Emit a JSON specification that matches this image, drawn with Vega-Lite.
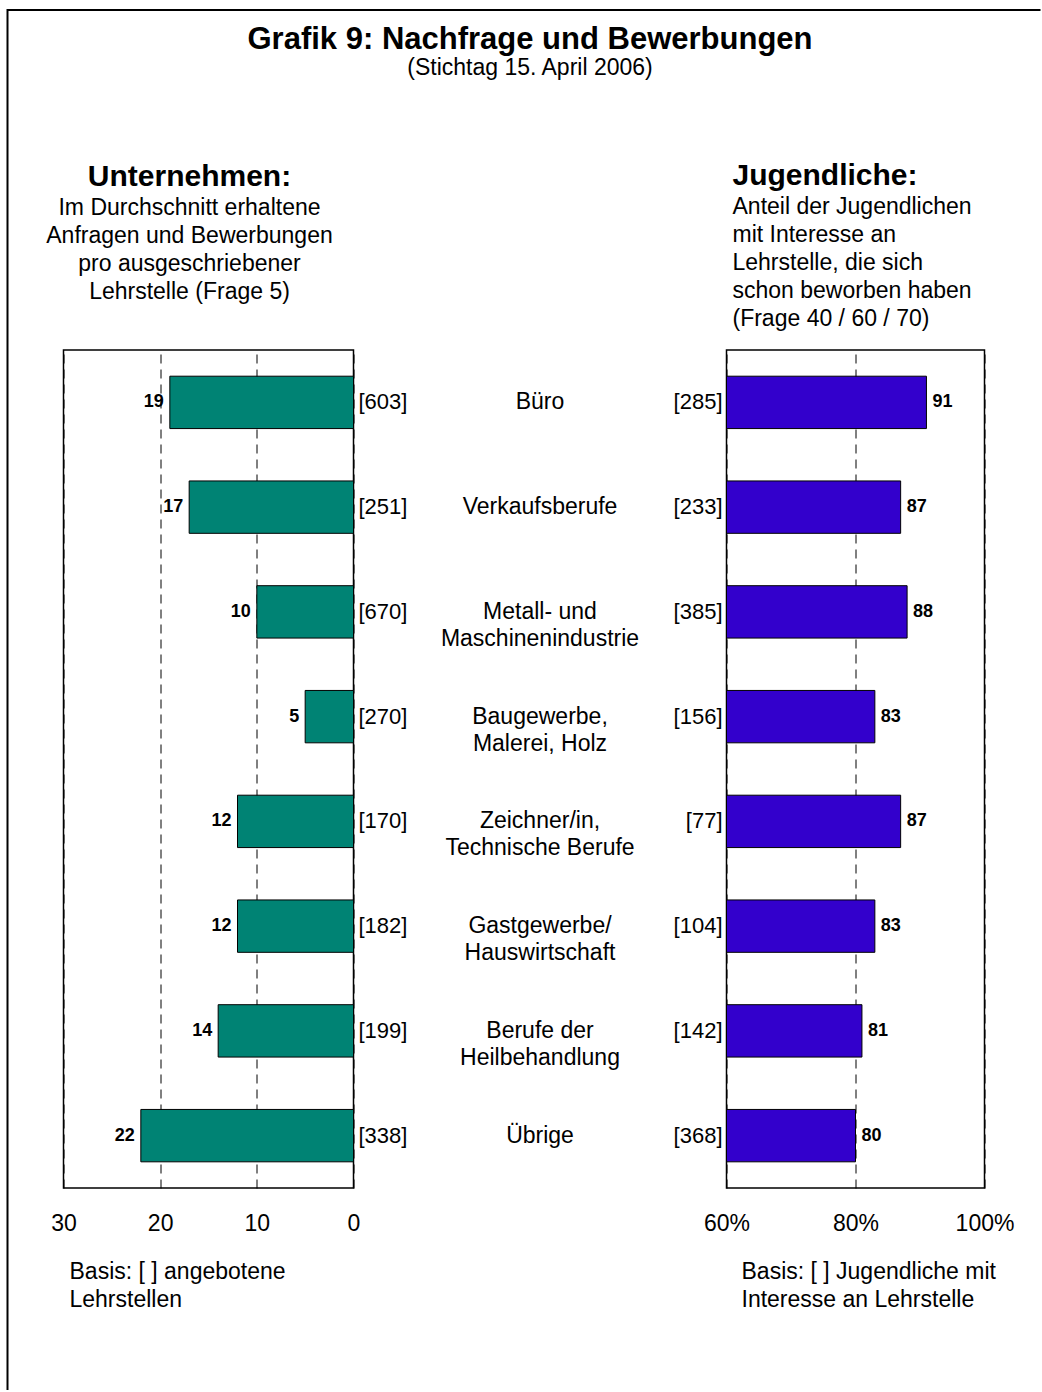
{
  "$schema": "https://vega.github.io/schema/vega-lite/v6.json",
  "padding": {"left": 6.5, "top": 9, "right": 0, "bottom": 0},
  "autosize": {"type": "pad"},
  "config": {
    "font": "Liberation Sans",
    "view": {"stroke": "black", "strokeWidth": 1.5},
    "text": {"color": "black"}
  },
  "data": {
    "values": [
      {"cat": "Büro", "l": 19, "ln": "[603]", "r": 91, "rn": "[285]"},
      {"cat": "Verkaufsberufe", "l": 17, "ln": "[251]", "r": 87, "rn": "[233]"},
      {"cat": "Metall- und\nMaschinenindustrie", "l": 10, "ln": "[670]", "r": 88, "rn": "[385]"},
      {"cat": "Baugewerbe,\nMalerei, Holz", "l": 5, "ln": "[270]", "r": 83, "rn": "[156]"},
      {"cat": "Zeichner/in,\nTechnische Berufe", "l": 12, "ln": "[170]", "r": 87, "rn": "[77]"},
      {"cat": "Gastgewerbe/\nHauswirtschaft", "l": 12, "ln": "[182]", "r": 83, "rn": "[104]"},
      {"cat": "Berufe der\nHeilbehandlung", "l": 14, "ln": "[199]", "r": 81, "rn": "[142]"},
      {"cat": "Übrige", "l": 22, "ln": "[338]", "r": 80, "rn": "[368]"}
    ]
  },
  "spacing": 0,
  "bounds": "flush",
  "vconcat": [
    {
      "width": 1033,
      "height": 340,
      "view": {"stroke": "black", "strokeWidth": 2, "strokeDash": [1033, 1373, 340]},
      "title": {
        "text": "Grafik 9: Nachfrage und Bewerbungen",
        "subtitle": "(Stichtag 15. April 2006)",
        "anchor": "middle",
        "frame": "group",
        "offset": -71,
        "dx": 6,
        "fontSize": 31,
        "fontWeight": "bold",
        "color": "black",
        "subtitleFontSize": 23,
        "subtitleColor": "black",
        "subtitlePadding": 1
      },
      "mark": {"type": "text"},
      "encoding": {"text": {"value": ""}}
    },
    {
      "spacing": 0,
      "bounds": "flush",
      "hconcat": [
        {
          "width": 56,
          "height": 1040,
          "view": {"stroke": "black", "strokeWidth": 2, "strokeDash": [0, 1152, 1040]},
          "mark": {"type": "text"},
          "encoding": {"text": {"value": ""}}
        },
        {
          "width": 290,
          "height": 838,
          "title": {
            "text": "Unternehmen:",
            "subtitle": ["Im Durchschnitt erhaltene", "Anfragen und Bewerbungen", "pro ausgeschriebener", "Lehrstelle (Frage 5)"],
            "anchor": "middle",
            "frame": "group",
            "dx": -19,
            "offset": 46,
            "fontSize": 30,
            "fontWeight": "bold",
            "color": "black",
            "subtitleFontSize": 23,
            "subtitleColor": "black",
            "subtitleLineHeight": 28,
            "subtitlePadding": 5
          },
          "encoding": {
            "y": {
              "field": "cat", "type": "nominal", "sort": null,
              "scale": {"paddingInner": 0.5, "paddingOuter": 0.25},
              "axis": null
            }
          },
          "layer": [
            {
              "mark": {"type": "bar", "color": "#008374", "stroke": "black", "strokeWidth": 1},
              "encoding": {
                "x": {
                  "field": "l", "type": "quantitative",
                  "scale": {"domain": [0, 30], "reverse": true, "nice": false},
                  "axis": {
                    "values": [0, 10, 20, 30],
                    "labelFontSize": 23, "labelColor": "black", "labelFlush": false,
                    "labelBaseline": "alphabetic", "labelPadding": 42,
                    "ticks": false, "tickSize": 0, "domain": false,
                    "grid": true, "gridDash": [9, 6], "gridColor": "black", "gridWidth": 1, "gridOpacity": 1,
                    "title": ["Basis: [ ] angebotene", "Lehrstellen"],
                    "titleFontSize": 23, "titleFontWeight": "normal", "titleColor": "black",
                    "titleAnchor": "start", "titleAlign": "left", "titleBaseline": "alphabetic",
                    "titleX": 5.5, "titleY": 90, "titleLineHeight": 28
                  }
                }
              }
            },
            {
              "mark": {"type": "text", "align": "right", "dx": -6, "fontWeight": "bold", "fontSize": 18, "baseline": "middle"},
              "encoding": {
                "x": {"field": "l", "type": "quantitative"},
                "text": {"field": "l"}
              }
            },
            {
              "mark": {"type": "text", "align": "left", "dx": 5, "fontSize": 22, "baseline": "middle"},
              "encoding": {
                "x": {"datum": 0, "type": "quantitative"},
                "text": {"field": "ln"}
              }
            }
          ]
        },
        {
          "width": 373,
          "height": 838,
          "view": {"stroke": null},
          "mark": {"type": "text", "fontSize": 23, "lineBreak": "\n", "lineHeight": 27, "baseline": "middle", "align": "center"},
          "encoding": {
            "y": {
              "field": "cat", "type": "nominal", "sort": null,
              "scale": {"paddingInner": 0.5, "paddingOuter": 0.25},
              "axis": null
            },
            "text": {"field": "cat"}
          }
        },
        {
          "width": 258,
          "height": 838,
          "title": {
            "text": "Jugendliche:",
            "subtitle": ["Anteil der Jugendlichen", "mit Interesse an", "Lehrstelle, die sich", "schon beworben haben", "(Frage 40 / 60 / 70)"],
            "anchor": "start",
            "frame": "group",
            "dx": 6,
            "offset": 19,
            "fontSize": 30,
            "fontWeight": "bold",
            "color": "black",
            "subtitleFontSize": 23,
            "subtitleColor": "black",
            "subtitleLineHeight": 28,
            "subtitlePadding": 5
          },
          "encoding": {
            "y": {
              "field": "cat", "type": "nominal", "sort": null,
              "scale": {"paddingInner": 0.5, "paddingOuter": 0.25},
              "axis": null
            }
          },
          "layer": [
            {
              "mark": {"type": "bar", "color": "#3300cc", "stroke": "black", "strokeWidth": 1},
              "encoding": {
                "x": {
                  "field": "r", "type": "quantitative",
                  "scale": {"domain": [60, 100], "nice": false, "zero": false},
                  "axis": {
                    "values": [60, 80, 100],
                    "labelExpr": "datum.value + '%'",
                    "labelFontSize": 23, "labelColor": "black", "labelFlush": false,
                    "labelBaseline": "alphabetic", "labelPadding": 42,
                    "ticks": false, "tickSize": 0, "domain": false,
                    "grid": true, "gridDash": [9, 6], "gridColor": "black", "gridWidth": 1, "gridOpacity": 1,
                    "title": ["Basis: [ ] Jugendliche mit", "Interesse an Lehrstelle"],
                    "titleFontSize": 23, "titleFontWeight": "normal", "titleColor": "black",
                    "titleAnchor": "start", "titleAlign": "left", "titleBaseline": "alphabetic",
                    "titleX": 14.5, "titleY": 90, "titleLineHeight": 28
                  }
                },
                "x2": {"datum": 60}
              }
            },
            {
              "mark": {"type": "text", "align": "left", "dx": 6, "fontWeight": "bold", "fontSize": 18, "baseline": "middle"},
              "encoding": {
                "x": {"field": "r", "type": "quantitative"},
                "text": {"field": "r"}
              }
            },
            {
              "mark": {"type": "text", "align": "right", "dx": -4, "fontSize": 22, "baseline": "middle"},
              "encoding": {
                "x": {"datum": 60, "type": "quantitative"},
                "text": {"field": "rn"}
              }
            }
          ]
        }
      ]
    }
  ]
}
